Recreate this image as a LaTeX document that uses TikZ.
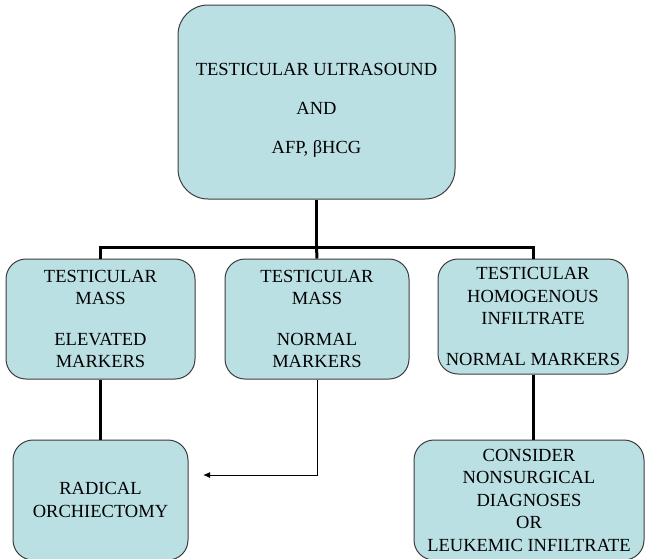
\documentclass[tikz,border=0pt]{standalone}
\usepackage{fontspec}
\setmainfont{Liberation Serif}
\usetikzlibrary{arrows.meta,positioning,calc}
\definecolor{boxfill}{RGB}{187,224,228}
\definecolor{boxline}{RGB}{60,60,60}

\begin{document}
\begin{tikzpicture}[x=1pt,y=-1pt,>={Latex[length=7pt,width=6pt]},
  font=\fontsize{18.5}{22.5}\selectfont,
  box/.style={rectangle,rounded corners=20pt,draw=boxline,line width=1pt,
    fill=boxfill,align=center,inner sep=0pt},
  trunk/.style={line width=3pt},
  branch/.style={line width=1pt}]
  \useasboundingbox (0,0) rectangle (646,558);
  % top box
  \node[box,rounded corners=30pt,minimum width=277pt,minimum height=194pt] (us) at (316.5,102) {};
  \node[align=center] (ustext) at ([yshift=-8pt]us.center)
    {TESTICULAR ULTRASOUND\\[16.5pt]AND\\[16.5pt]AFP, βHCG};
  % second row
  \node[box,minimum width=189pt,minimum height=120pt] (mass) at (100.5,319)
    {TESTICULAR\\MASS\\[18pt]ELEVATED\\MARKERS};
  \node[box,minimum width=184pt,minimum height=120pt] (normal) at (317,319)
    {TESTICULAR\\MASS\\[18pt]NORMAL\\MARKERS};
  \node[box,minimum width=190pt,minimum height=115pt] (infil) at (533,316.5)
    {TESTICULAR\\HOMOGENOUS\\INFILTRATE\\[18pt]NORMAL MARKERS};
  % bottom row
  \node[box,minimum width=175pt,minimum height=120pt] (radical) at (100.5,500)
    {RADICAL\\ORCHIECTOMY};
  \node[box,minimum width=230pt,minimum height=120pt] (consider) at (529,500)
    {CONSIDER\\NONSURGICAL\\DIAGNOSES\\OR\\LEUKEMIC INFILTRATE};
  % connectors
  \coordinate (bar) at (316.5,247);
  \coordinate (tip) at (203,475);
  \draw[trunk] (us.south) -- (bar);
  \draw[trunk] (mass.north) |- (bar) -| (infil.north);
  \draw[trunk] (bar) -- (normal.north);
  \draw[trunk] (mass.south) -- (radical.north);
  \draw[trunk] (infil.south) -- (infil.south |- consider.north);
  \draw[branch,->] (normal.south) |- (tip);
\end{tikzpicture}
\end{document}
